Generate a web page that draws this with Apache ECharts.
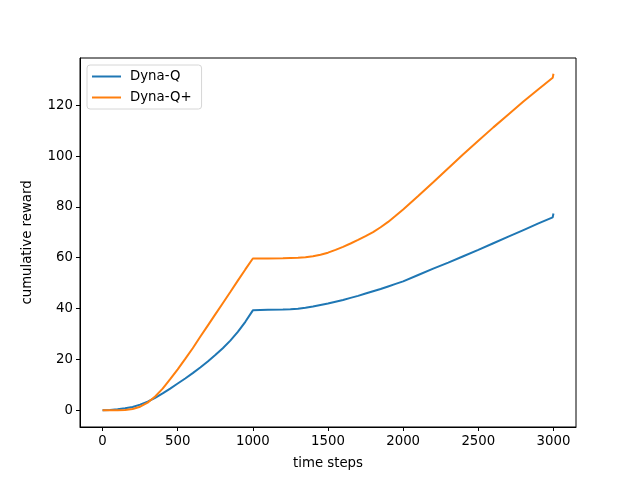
<!DOCTYPE html>
<html>
<head>
<meta charset="utf-8">
<script src="https://cdn.jsdelivr.net/npm/echarts@6/dist/echarts.min.js"></script>
<style>
html,body{margin:0;padding:0;background:#fff;}
#chart{width:640px;height:480px;}
</style>
</head>
<body>
<div id="chart"></div>
<script>
const steps = [0,50,100,150,200,250,300,350,400,450,500,550,600,650,700,750,800,850,900,950,1000,1010,1100,1200,1250,1300,1350,1400,1450,1500,1550,1600,1650,1700,1750,1800,1850,1900,1950,2000,2100,2200,2300,2400,2500,2600,2700,2800,2900,2995,3000];
const dynaQ = [0,0.1,0.4,0.8,1.3,2.2,3.4,4.9,6.6,8.5,10.5,12.5,14.6,16.8,19.2,21.7,24.4,27.4,30.8,34.8,39.3,39.4,39.5,39.6,39.7,39.9,40.3,40.8,41.4,42.0,42.7,43.4,44.2,45.0,45.9,46.8,47.7,48.7,49.7,50.7,53.2,55.7,58.1,60.6,63.1,65.7,68.3,70.9,73.5,75.9,77.4];
const dynaQPlus = [0,0.0,0.0,0.1,0.5,1.4,3.0,5.4,8.5,12.2,16.1,20.2,24.4,28.9,33.3,37.7,42.1,46.5,51.0,55.4,59.7,59.7,59.7,59.8,59.9,60.0,60.2,60.6,61.2,62.0,63.1,64.3,65.6,67.0,68.5,70.1,72.0,74.1,76.5,79.0,84.3,89.7,95.2,100.7,106.0,111.3,116.4,121.5,126.3,130.8,132.4];
const xTicks = [0,500,1000,1500,2000,2500,3000];
const yTicks = [0,20,40,60,80,100,120];
const seriesNames = ['Dyna-Q','Dyna-Q+'];

const pairs = (ys) => steps.map((x,i)=>[x, ys[i]]);
const font = 'DejaVu Sans';
const chart = echarts.init(document.getElementById('chart'), null, {renderer:'canvas'});
chart.setOption({
  animation:false,
  backgroundColor:'#fff',
  grid:{left:80, top:58, width:496, height:369, show:true, borderColor:'#000', borderWidth:1, backgroundColor:'transparent'},
  legend:{
    orient:'vertical', left:87, top:65,
    data:seriesNames,
    icon:'rect', itemWidth:29, itemHeight:2, itemGap:8,
    padding:[5,10,5,5],
    borderColor:'#d6d6d6', borderWidth:1, borderRadius:3,
    backgroundColor:'rgba(255,255,255,0.8)',
    textStyle:{fontFamily:font, fontSize:13.3, color:'#000', padding:[0,0,0,4]}
  },
  xAxis:{
    type:'value', min:-150, max:3150,
    name:'time steps', nameLocation:'middle', nameGap:30,
    nameTextStyle:{fontFamily:font, fontSize:13.3, color:'#000'},
    axisLine:{show:true, onZero:false, lineStyle:{color:'#000', width:1}},
    axisTick:{show:true, inside:false, length:4, lineStyle:{color:'#000'}, customValues:xTicks},
    axisLabel:{fontFamily:font, fontSize:13.3, color:'#000', margin:8, customValues:xTicks, formatter:(v)=>String(v)},
    splitLine:{show:false}
  },
  yAxis:{
    type:'value', min:-6.6, max:138.6,
    name:'cumulative reward', nameLocation:'middle', nameGap:46, nameRotate:90,
    nameTextStyle:{fontFamily:font, fontSize:13.3, color:'#000'},
    axisLine:{show:true, onZero:false, lineStyle:{color:'#000', width:1}},
    axisTick:{show:true, inside:false, length:4, lineStyle:{color:'#000'}, customValues:yTicks},
    axisLabel:{fontFamily:font, fontSize:13.3, color:'#000', margin:7, customValues:yTicks, formatter:(v)=>String(v)},
    splitLine:{show:false}
  },
  series:[
    {name:seriesNames[0], type:'line', data:pairs(dynaQ), showSymbol:false, symbol:'none', smooth:false,
     lineStyle:{color:'#1f77b4', width:2}, itemStyle:{color:'#1f77b4'}, z:2},
    {name:seriesNames[1], type:'line', data:pairs(dynaQPlus), showSymbol:false, symbol:'none', smooth:false,
     lineStyle:{color:'#ff7f0e', width:2}, itemStyle:{color:'#ff7f0e'}, z:3}
  ]
});
</script>
</body>
</html>
